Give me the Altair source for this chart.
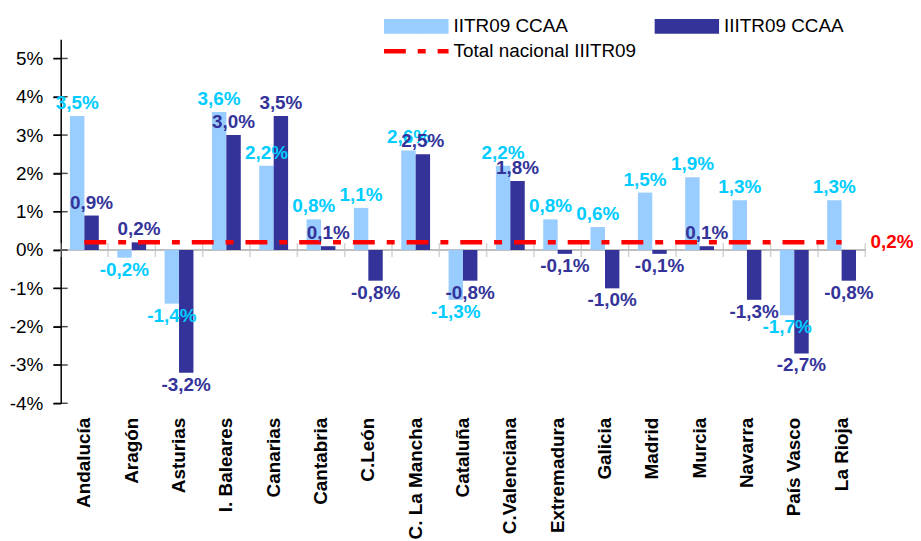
import altair as alt
import pandas as pd

regions = ["Andalucía", "Aragón", "Asturias", "I. Baleares", "Canarias", "Cantabria",
           "C.León", "C. La Mancha", "Cataluña", "C.Valenciana", "Extremadura", "Galicia",
           "Madrid", "Murcia", "Navarra", "País Vasco", "La Rioja"]
ii_tr09 = [3.5, -0.2, -1.4, 3.6, 2.2, 0.8, 1.1, 2.6, -1.3, 2.2, 0.8, 0.6, 1.5, 1.9, 1.3, -1.7, 1.3]
iii_tr09 = [0.9, 0.2, -3.2, 3.0, 3.5, 0.1, -0.8, 2.5, -0.8, 1.8, -0.1, -1.0, -0.1, 0.1, -1.3, -2.7, -0.8]
total_nacional = 0.2
series_names = ["IITR09 CCAA", "IIITR09 CCAA", "Total nacional IIITR09"]
# legend is laid out column by column: first column holds series 1 and the total line
legend_order = [series_names[0], series_names[2], series_names[1]]
y_ticks = [-4, -3, -2, -1, 0, 1, 2, 3, 4, 5]

FONT = "Liberation Sans"

rows = []
for r, a, b in zip(regions, ii_tr09, iii_tr09):
    rows.append({"region": r, "series": series_names[0], "value": a})
    rows.append({"region": r, "series": series_names[1], "value": b})
df = pd.DataFrame(rows)
df_total = pd.DataFrame({"region": regions, "series": series_names[2], "value": total_nacional})
df_sep = pd.DataFrame({"region": regions, "zero": 0.0})
df_yt = pd.DataFrame({"tick": y_ticks})

x_scale = alt.Scale(domain=regions, paddingInner=0, paddingOuter=0)
x_enc = alt.X("region:N", scale=x_scale, sort=regions,
              axis=alt.Axis(title=None, labelAngle=-90, labelFont=FONT, labelFontSize=19,
                            labelFontWeight="bold", labelColor="black", domain=False,
                            ticks=False, labelPadding=14, labelLimit=300))
y_scale = alt.Scale(domain=[-4, 5.5], nice=False, zero=False)
y_enc = alt.Y("value:Q", scale=y_scale,
              axis=alt.Axis(title=None, values=y_ticks, labelExpr="datum.value + '%'",
                            labelFont=FONT, labelFontSize=19, labelColor="black",
                            domainColor="black", domainWidth=1.5, tickColor="black",
                            tickSize=8, tickWidth=1.5, labelPadding=10, grid=False))
xoff = alt.XOffset("series:N", scale=alt.Scale(domain=series_names[:2], paddingOuter=0.64,
                                                paddingInner=0))

color_scale = alt.Scale(domain=legend_order, range=["#99CCFF", "#FF0000", "#333399"])
legend = alt.Legend(title=None, orient="none", legendX=325, legendY=-23, columns=2,
                    columnPadding=18, rowPadding=5, clipHeight=20, padding=0,
                    symbolType="M-1.625,0H3.79", symbolSize=576, symbolOffset=0,
                    labelOffset=31, labelFont=FONT, labelFontSize=19, labelColor="black",
                    labelLimit=300)

zero_line = alt.Chart(df_sep).mark_rule(color="#C0C0C0", strokeWidth=2).encode(
    y=alt.datum(0, scale=y_scale))

sep_ticks = alt.Chart(df_sep).mark_tick(orient="vertical", size=14, thickness=1.5,
                                         color="#C0C0C0").encode(
    x=alt.X("region:N", scale=x_scale, sort=regions, bandPosition=0),
    y=alt.Y("zero:Q", scale=y_scale))
sep_last = alt.Chart(df_sep).transform_filter(
    alt.datum.region == regions[-1]).mark_tick(orient="vertical", size=14, thickness=1.5,
                                               color="#C0C0C0").encode(
    x=alt.X("region:N", scale=x_scale, sort=regions, bandPosition=1),
    y=alt.Y("zero:Q", scale=y_scale))

# inner half of the crossing y-axis ticks
y_inner_ticks = alt.Chart(df_yt).mark_tick(orient="horizontal", size=14, thickness=1.5,
                                            color="black").encode(
    x=alt.value(0), y=alt.Y("tick:Q", scale=y_scale))

total_line = alt.Chart(df_total).mark_line().encode(
    x=alt.X("region:N", scale=x_scale, sort=regions),
    y=alt.Y("value:Q", scale=y_scale),
    color=alt.Color("series:N", scale=color_scale, legend=legend),
    strokeDash=alt.StrokeDash("series:N", scale=alt.Scale(domain=legend_order,
                              range=[[1, 0], [22, 12, 8, 12], [1, 0]]), legend=legend),
    strokeWidth=alt.StrokeWidth("series:N", scale=alt.Scale(type="ordinal", domain=legend_order,
                                range=[15, 4.5, 15]), legend=legend),
)

bars = alt.Chart(df).mark_bar(size=14.5).encode(
    x=x_enc, xOffset=xoff, y=y_enc,
    color=alt.Color("series:N", scale=color_scale, legend=legend),
)

label_color = alt.condition(alt.datum.series == series_names[0],
                            alt.value("#00CCFF"), alt.value("#333399"))
lab_expr = "(datum.value < 0 ? '-' : '') + replace(format(abs(datum.value), '.1f'), '.', ',') + '%'"
labels_pos = alt.Chart(df).transform_filter(alt.datum.value >= 0).transform_calculate(
    lab=lab_expr).mark_text(font=FONT, fontSize=19, fontWeight="bold", baseline="bottom",
                            dy=-3).encode(
    x=alt.X("region:N", scale=x_scale, sort=regions), xOffset=xoff,
    y=alt.Y("value:Q", scale=y_scale), text="lab:N", color=label_color)
labels_neg = alt.Chart(df).transform_filter(alt.datum.value < 0).transform_calculate(
    lab=lab_expr).mark_text(font=FONT, fontSize=19, fontWeight="bold", baseline="top",
                            dy=3).encode(
    x=alt.X("region:N", scale=x_scale, sort=regions), xOffset=xoff,
    y=alt.Y("value:Q", scale=y_scale), text="lab:N", color=label_color)

total_label = alt.Chart(df_total).transform_filter(
    alt.datum.region == regions[-1]).transform_calculate(
    lab=lab_expr).mark_text(font=FONT, fontSize=19, fontWeight="bold", color="#FF0000",
                            align="left", baseline="middle", dx=29).encode(
    x=alt.X("region:N", scale=x_scale, sort=regions),
    y=alt.Y("value:Q", scale=y_scale), text="lab:N")

chart = alt.layer(zero_line, sep_ticks, sep_last, y_inner_ticks, bars, total_line,
                  labels_pos, labels_neg, total_label).properties(
    width=809, height=366,
    autosize=alt.AutoSizeParams(type="none"),
    padding={"left": 53, "top": 30, "right": 48, "bottom": 135},
).configure_view(stroke=None)

chart.save("out.html", embed_options={"renderer": "svg", "actions": False})
